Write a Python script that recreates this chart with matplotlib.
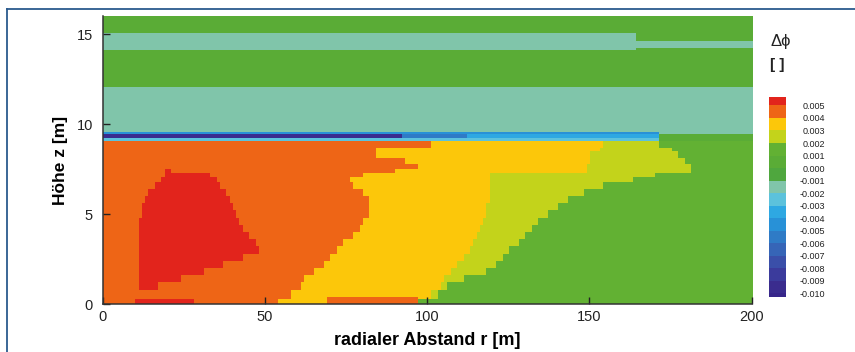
import numpy as np
import matplotlib
matplotlib.use("Agg")
import matplotlib.pyplot as plt
from matplotlib.colors import ListedColormap, BoundaryNorm
from matplotlib.lines import Line2D

plt.rcParams['font.family'] = ['Liberation Sans', 'DejaVu Sans']

# ---------------- data ----------------
# colour levels of delta phi
levels = [-0.010, -0.009, -0.008, -0.007, -0.006, -0.005, -0.004, -0.003,
          -0.002, -0.001, 0.000, 0.001, 0.002, 0.003, 0.004, 0.005]
level_colors = ['#3a2c8e', '#3b3b9c', '#3a4fa9', '#3665b7', '#2f7bc6',
                '#2891d7', '#2ea8e2', '#5cc2dc', '#80c5aa', '#4fa73e',
                '#5aac36', '#62b133', '#c3d31b', '#fcc70a', '#ee6516']
over_color = '#e2241c'
under_color = '#37268a'

# values of the regions
v_red, v_orange, v_yellow, v_yg, v_green = 0.0055, 0.0045, 0.0035, 0.0025, 0.0015

# lower field (below the blue layer): horizontal bands and the r boundaries in each band
band_z = [0.0, 0.3, 0.8, 1.2, 1.6, 2.0, 2.4, 2.8, 3.2, 3.6, 4.0, 4.4, 4.8, 5.2,
          5.6, 6.0, 6.4, 6.8, 7.05, 7.3, 7.5, 7.8, 8.1, 8.5, 8.65, 9.05]
red_lo = [10, 0, 11, 11, 11, 11, 11, 11, 11, 11, 11, 11, 12, 12, 13, 14, 16, 18, 19, 19, 0, 0, 0, 0, 0]
red_hi = [28, 0, 17, 24, 31, 37, 43, 48, 47, 45, 43, 42, 41, 40, 39, 38, 36, 35, 33, 21, 0, 0, 0, 0, 0]
r_orange_yellow = [54, 58, 61, 62, 65, 68, 70, 72, 74, 77, 79, 80, 82, 82, 82, 80, 77, 76, 80, 90, 97, 93, 84, 84, 101]
r_yellow_yg = [97, 101, 104, 105, 107, 109, 111, 113, 114, 115, 116, 117, 118, 118, 119, 119, 119, 119, 119, 149, 149, 150, 150, 153, 154]
r_yg_green = [97, 103, 106, 111, 118, 121, 123, 125, 128, 130, 132, 134, 137, 140, 143, 148, 154, 163, 170, 181, 181, 179, 177, 175, 171]
# orange strip at the ground
strip_z = (0.0, 0.4)
strip_r = (69, 97)

# upper layers: z edges, r break points and values of each layer
upper_z = [9.05, 9.23, 9.45, 9.55, 12.04, 14.1, 14.22, 14.63, 15.04, 16.0]
upper_breaks = [[171], [92, 112, 171], [171], [], [], [164], [], [164], []]
upper_values = [[-0.0025, 0.0005],
                [-0.0095, -0.0055, -0.0035, 0.0005],
                [-0.0045, -0.0015],
                [-0.0015],
                [0.0005],
                [-0.0015, 0.0005],
                [-0.0015],
                [-0.0015, 0.0005],
                [0.0005]]

x_ticks = [0, 50, 100, 150, 200]
y_ticks = [0, 5, 10, 15]

# ---------------- build field ----------------
r = np.arange(0, 200, 0.25) + 0.125
z = np.arange(0, 16, 0.01) + 0.005
field = np.zeros((len(z), len(r)))
for i, zz in enumerate(z):
    if zz < band_z[-1]:
        b = np.searchsorted(band_z, zz, side='right') - 1
        row = np.full(len(r), v_orange)
        row[(r >= red_lo[b]) & (r < red_hi[b])] = v_red
        row[r >= r_orange_yellow[b]] = v_yellow
        if strip_z[0] <= zz < strip_z[1]:
            row[(r >= strip_r[0]) & (r < strip_r[1])] = v_orange
        row[r >= r_yellow_yg[b]] = v_yg
        row[r >= r_yg_green[b]] = v_green
    else:
        b = min(np.searchsorted(upper_z, zz, side='right') - 1, len(upper_values) - 1)
        idx = np.searchsorted(upper_breaks[b], r, side='right')
        row = np.array(upper_values[b])[idx]
    field[i] = row

# ---------------- plot ----------------
fig = plt.figure(figsize=(8.55, 3.52), dpi=100)
ax = fig.add_axes([102.5 / 855, 48 / 352, 649 / 855, 288 / 352])

cmap = ListedColormap(level_colors)
cmap.set_over(over_color)
cmap.set_under(under_color)
norm = BoundaryNorm(levels, cmap.N)

im = ax.imshow(field, extent=[0, 200, 0, 16], origin='lower', aspect='auto',
               cmap=cmap, norm=norm, interpolation='nearest')
ax.set_xlim(0, 200)
ax.set_ylim(0, 16)
ax.set_xticks(x_ticks)
ax.set_yticks(y_ticks)
ax.tick_params(direction='in', length=5, width=1, labelsize=10.5, colors='#222222')
ax.tick_params(axis='y', pad=7)
ax.tick_params(axis='x', pad=4)
for s in ax.spines.values():
    s.set_visible(False)
for side in ('bottom', 'left'):
    ax.spines[side].set_visible(True)
    ax.spines[side].set_linewidth(1.1)
    ax.spines[side].set_color('#333333')

ax.set_xlabel('radialer Abstand r [m]', fontsize=13, fontweight='bold', labelpad=6)
ax.set_ylabel('Höhe z [m]', fontsize=12.5, fontweight='bold', labelpad=6)

# colour bar
cax = fig.add_axes([769 / 855, (352 - 297) / 352, 17 / 855, 200 / 352])
cb = fig.colorbar(im, cax=cax, extend='both', extendfrac=(0.02, 0.045),
                  extendrect=True, ticks=levels)
cb.outline.set_visible(False)
cb.ax.tick_params(length=0, pad=28, labelsize=6.5, colors='#222222')
cb.ax.set_yticklabels(['%.3f' % v if v >= 0 else '-%.3f' % abs(v) for v in levels])
for t in cb.ax.get_yticklabels():
    t.set_horizontalalignment('right')

fig.text(770 / 855, 1 - 46 / 352, 'Δϕ', fontsize=12, color='#222222')
fig.text(770 / 855, 1 - 69 / 352, '[ ]', fontsize=11, fontweight='bold', color='#222222')

# frame of the figure
fc = '#2b5a8e'
fig.add_artist(Line2D([7 / 855, 7 / 855], [0, 1 - 9 / 352], color=fc, lw=1.3))
fig.add_artist(Line2D([7 / 855, 1], [1 - 9 / 352, 1 - 9 / 352], color=fc, lw=1.3))

fig.savefig('out.png', dpi=100)
